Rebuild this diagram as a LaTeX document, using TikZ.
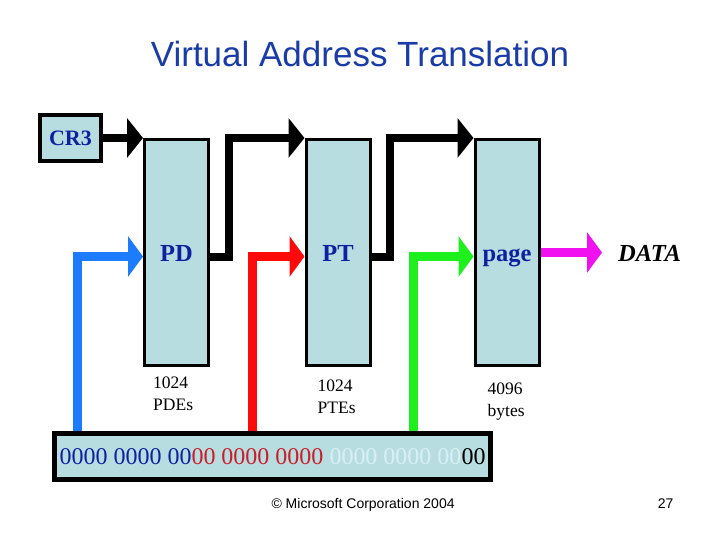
\documentclass[tikz,border=0pt]{standalone}
\usepackage{fontspec}
\setmainfont{Liberation Serif}
\setsansfont{Liberation Sans}
\usetikzlibrary{arrows.meta, positioning}
\definecolor{vaBox}{HTML}{B8DDE1}
\definecolor{vaNavy}{HTML}{1020A0}
\definecolor{vaTitle}{HTML}{1A3CA8}
\definecolor{vaBlue}{HTML}{1C7CFC}
\definecolor{vaRed}{HTML}{FF0A0A}
\definecolor{vaGreen}{HTML}{1EF01E}
\definecolor{vaMagenta}{HTML}{F010F0}
\definecolor{vaDarkRed}{HTML}{C81E28}
\definecolor{vaPale}{HTML}{D8F0F4}
\tikzset{
  tblbox/.style={rectangle, draw=black, line width=3pt, fill=vaBox,
    minimum width=64pt, minimum height=226pt, inner sep=0pt,
    text height=17pt, text depth=0pt,
    font=\fontsize{24.5}{26}\selectfont\bfseries, text=vaNavy},
  regbox/.style={rectangle, draw=black, line width=4pt, fill=vaBox,
    minimum width=61pt, minimum height=46pt, inner sep=0pt,
    font=\fontsize{22}{24}\selectfont\bfseries, text=vaNavy},
  cntlbl/.style={align=left, inner sep=0pt, anchor=north west,
    font=\fontsize{17.5}{22}\selectfont},
  vaarrow/.style={-{Triangle[length=15pt, width=40pt]}, line width=9pt, line join=miter},
  ptrarrow/.style={-{Triangle[length=16pt, width=39pt]}, line width=8pt, line join=miter, black}
}

\begin{document}
\begin{tikzpicture}[x=1pt, y=-1pt]
  \useasboundingbox (0,0) rectangle (720,540);
  \node[font=\sffamily\fontsize{35}{40}\selectfont, text=vaTitle, anchor=base] (title) at (360,67) {Virtual Address Translation};

  \node[regbox] (cr3) at (70.5,138) {CR3};
  \node[tblbox] (pd) at (176.5,252.5) {PD};
  \node[tblbox] (pt) at (338,252.5) {PT};
  \node[tblbox] (page) at (507,252.5) {page};
  \node[font=\fontsize{24.5}{26}\selectfont\bfseries\itshape, anchor=base west, inner sep=0pt] (data) at (618,261) {DATA};

  \node[cntlbl, below right=10pt and 10pt of pd.south west] (pdcnt) {1024\\PDEs};
  \node[cntlbl, below right=13pt and 13pt of pt.south west] (ptcnt) {1024\\PTEs};
  \node[cntlbl, below right=16pt and 14pt of page.south west] (pagecnt) {4096\\bytes};

  \node[rectangle, draw=black, line width=5pt, fill=vaBox, minimum width=436pt, minimum height=46pt,
    inner sep=0pt, font=\fontsize{24}{26}\selectfont] (addr) at (272.5,456.5)
    {\textcolor{vaNavy}{0000 0000 00}\textcolor{vaDarkRed}{00 0000 0000} \textcolor{vaPale}{0000 0000 00}00};

  % table walk
  \draw[ptrarrow] (cr3.east) -- (pd.north west);
  \draw[ptrarrow] ([yshift=-4pt]pd.east) -- ++(19,0) |- (pt.north west);
  \draw[ptrarrow] ([yshift=-4pt]pt.east) -- ++(18,0) |- (page.north west);

  % index bits
  \draw[vaarrow, vaBlue] ([xshift=25pt]addr.north west) |- ([yshift=-4pt]pd.west);
  \draw[vaarrow, vaRed] ([xshift=200pt]addr.north west) |- ([yshift=-4pt]pt.west);
  \draw[vaarrow, vaGreen] ([xshift=361pt]addr.north west) |- ([yshift=-4pt]page.west);
  \draw[vaarrow, vaMagenta] (page.east) -- ([xshift=-16pt]data.west |- page.east);

  \node[font=\sffamily\fontsize{14}{16}\selectfont, anchor=base west] (copy) at (268,508) {© Microsoft Corporation 2004};
  \node[font=\sffamily\fontsize{14}{16}\selectfont, anchor=base east] (slideno) at (677,508) {27};
\end{tikzpicture}
\end{document}
